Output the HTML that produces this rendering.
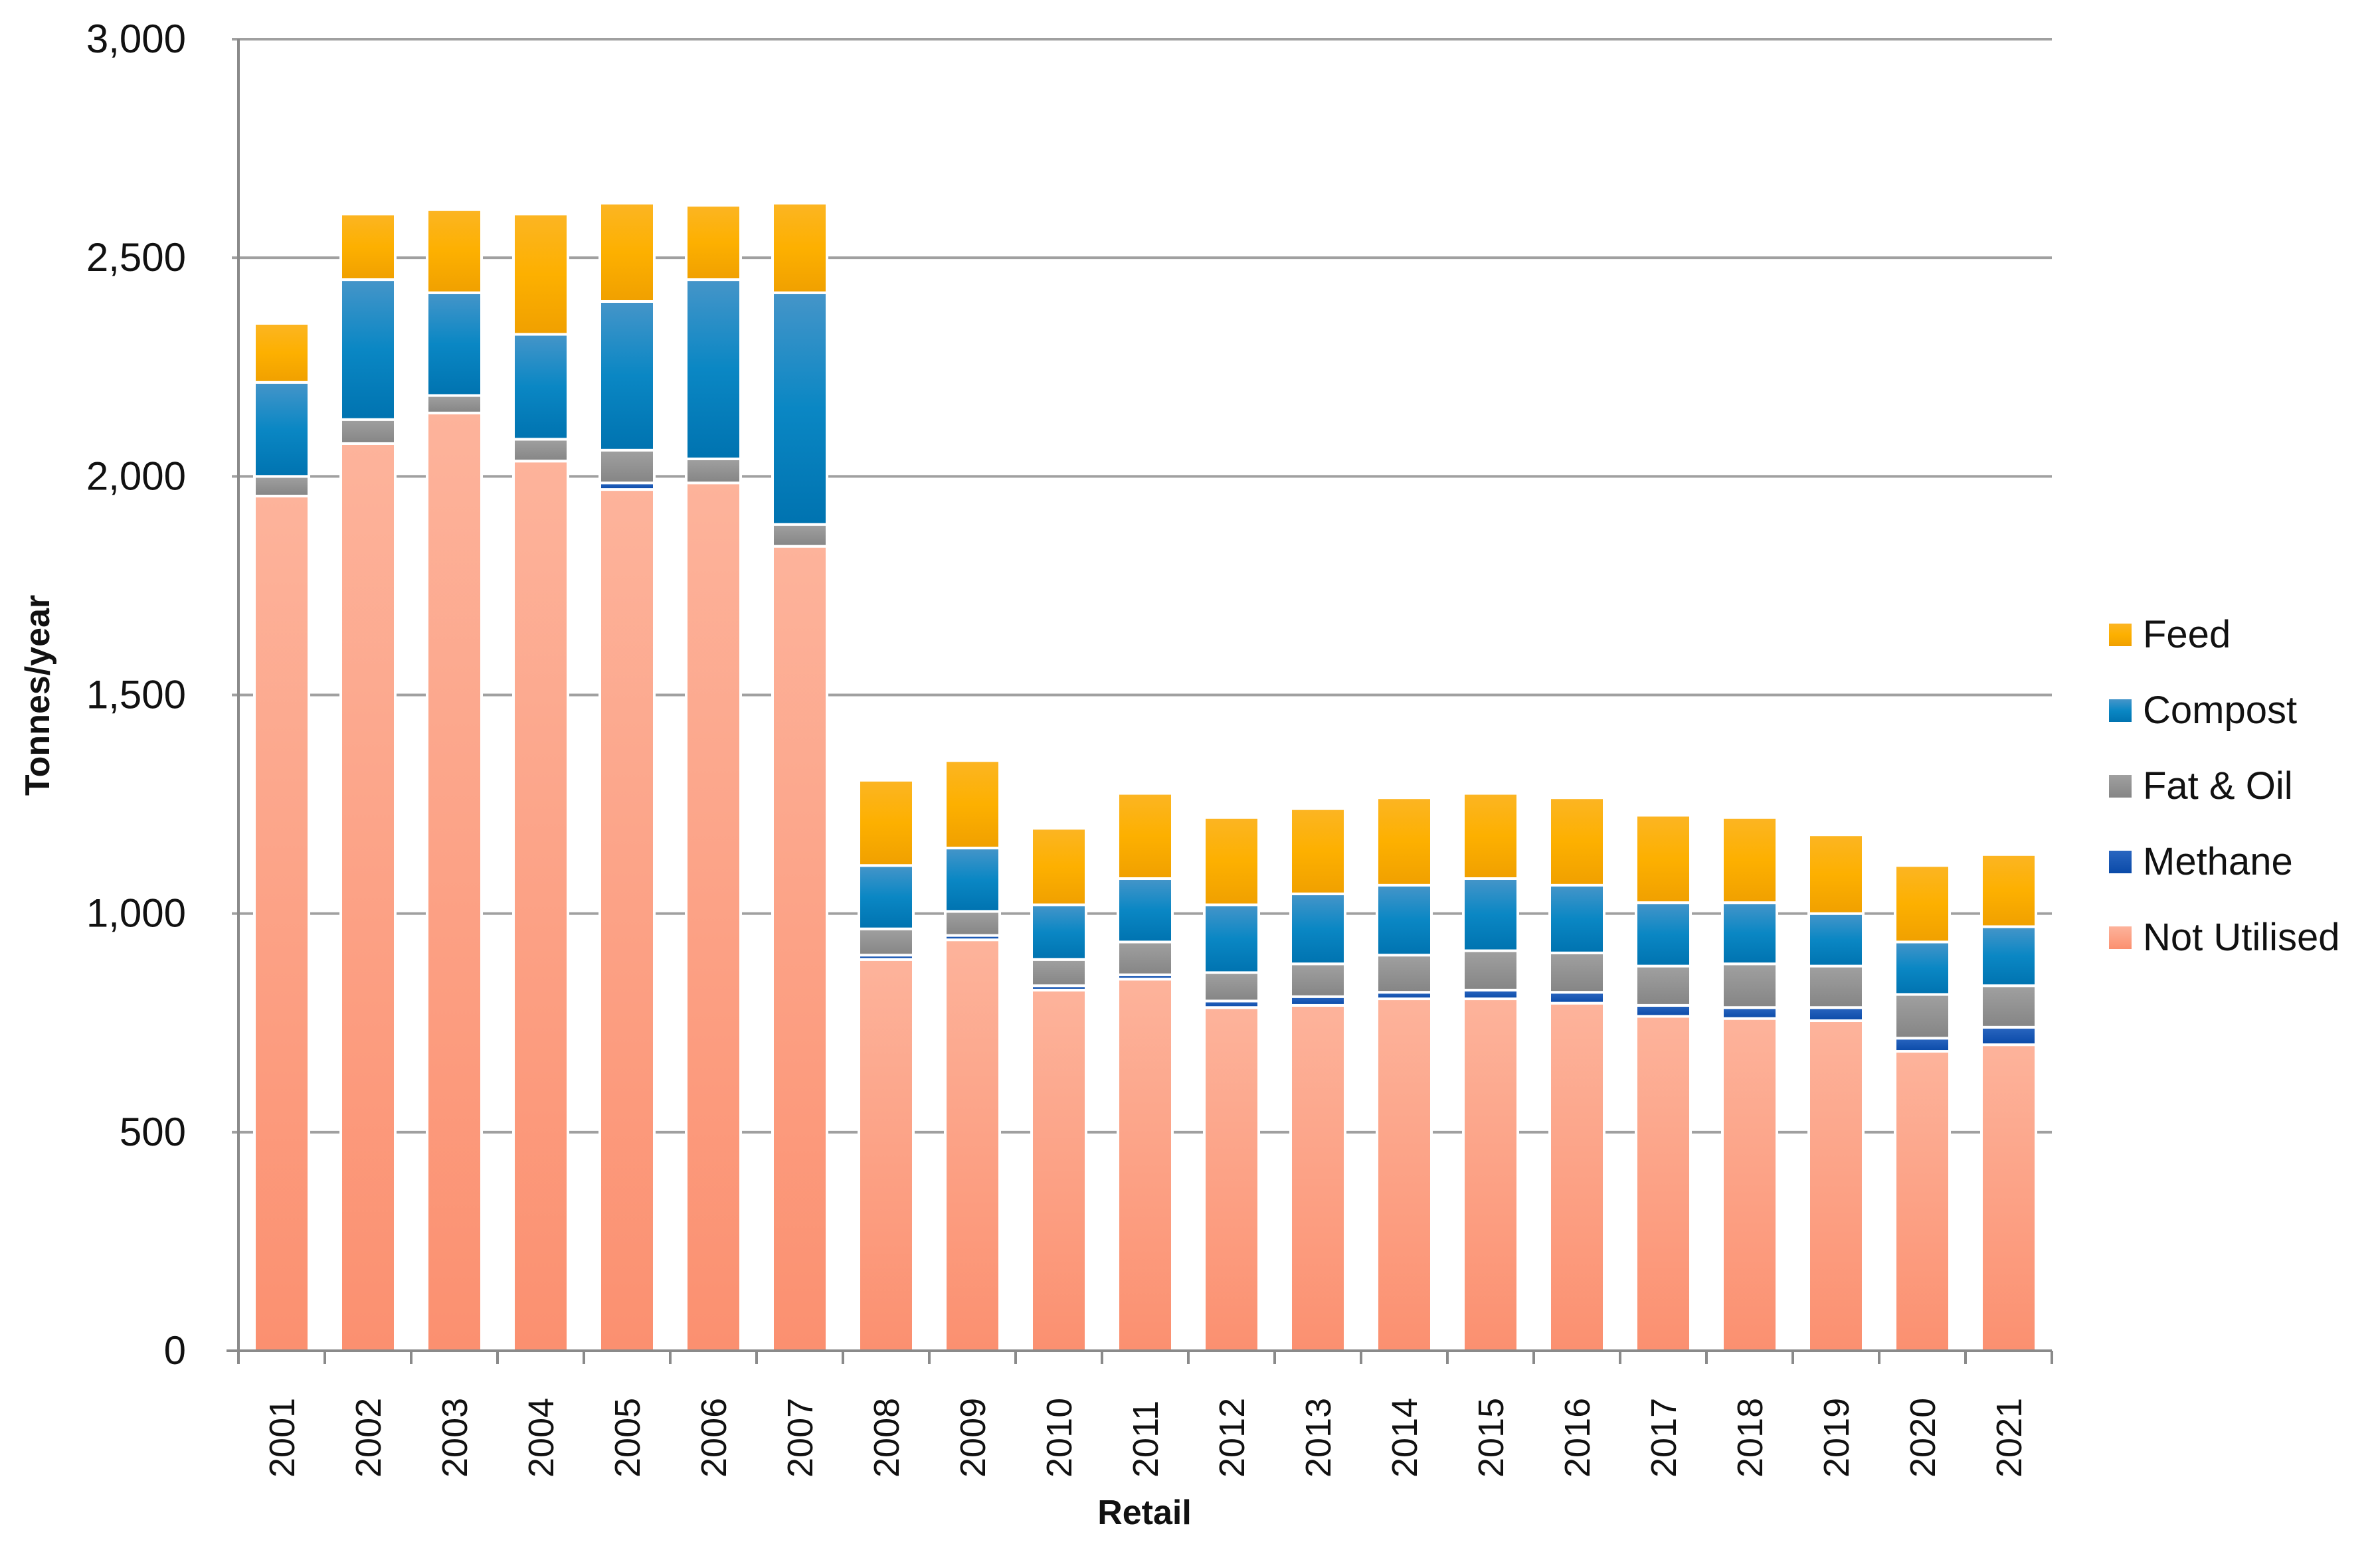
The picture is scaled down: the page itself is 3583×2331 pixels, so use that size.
<!DOCTYPE html>
<html><head><meta charset="utf-8"><style>
html,body{margin:0;padding:0;background:#fff;}
svg{display:block;font-family:"Liberation Sans",sans-serif;}
</style></head><body>
<svg id="chart" width="3583" height="2331" viewBox="0 0 3583 2331" xmlns="http://www.w3.org/2000/svg">
<defs>
<linearGradient id="gFeed" x1="0" y1="0" x2="0" y2="1"><stop offset="0" stop-color="#fcb523"/><stop offset="0.5" stop-color="#fdb000"/><stop offset="1" stop-color="#f0a000"/></linearGradient>
<linearGradient id="gComp" x1="0" y1="0" x2="0" y2="1"><stop offset="0" stop-color="#4595c9"/><stop offset="0.5" stop-color="#0a87c4"/><stop offset="1" stop-color="#0073b0"/></linearGradient>
<linearGradient id="gFat" x1="0" y1="0" x2="0" y2="1"><stop offset="0" stop-color="#a0a0a0"/><stop offset="1" stop-color="#858585"/></linearGradient>
<linearGradient id="gMeth" x1="0" y1="0" x2="0" y2="1"><stop offset="0" stop-color="#2a66c0"/><stop offset="1" stop-color="#0a4aa8"/></linearGradient>
<linearGradient id="gNU" x1="0" y1="0" x2="0" y2="1"><stop offset="0" stop-color="#fdb39b"/><stop offset="1" stop-color="#fb9070"/></linearGradient>
</defs>
<g id="grid"></g>
<g id="bars"></g>
<g id="axes"></g>
<text transform="translate(74,1047) rotate(-90)" text-anchor="middle" font-size="52" font-weight="bold" fill="#111">Tonnes/year</text>
<text x="1723" y="2295" text-anchor="middle" font-size="52" font-weight="bold" fill="#111">Retail</text>
<g id="legend"></g>
</svg>
<script>
const years = ["2001","2002","2003","2004","2005","2006","2007","2008","2009","2010","2011","2012","2013","2014","2015","2016","2017","2018","2019","2020","2021"];
const notUtilised = [1955,2075,2145,2035,1970,1985,1840,895,940,825,850,785,790,805,805,795,765,760,755,685,700];
const methane = [0,0,0,0,15,0,0,10,10,10,10,15,20,15,20,25,25,25,30,30,40];
const fatOil = [45,55,40,50,75,55,50,60,55,60,75,65,75,85,90,90,90,100,95,100,95];
const compost = [215,320,235,240,340,410,530,145,145,125,145,155,160,160,165,155,145,140,120,120,135];
const feed = [135,150,190,275,225,170,205,195,200,175,195,200,195,200,195,200,200,195,180,175,165];
const yTicks = [0,500,1000,1500,2000,2500,3000];
const yTickLabels = ["0","500","1,000","1,500","2,000","2,500","3,000"];
const seriesNames = ["Feed","Compost","Fat & Oil","Methane","Not Utilised"];

const NS="http://www.w3.org/2000/svg";
const L=359,R=3089,Y0=2034,YT=59,YMAX=3000;
const band=(R-L)/years.length, bw=82;
function yScale(v){return Y0-(v/YMAX)*(Y0-YT);}
function xCenter(i){return L+band*(i+0.5);}
function mk(tag,attrs,parent){const e=document.createElementNS(NS,tag);for(const k in attrs)e.setAttribute(k,attrs[k]);parent.appendChild(e);return e;}

const grid=document.getElementById('grid');
yTicks.forEach((t,i)=>{
  if(t>0){const ln=mk('line',{x1:L-10,x2:R,y1:yScale(t),y2:yScale(t),stroke:'#a0a0a0','stroke-width':4},grid);
  
  }
  const tx=mk('text',{x:280,y:yScale(t)+20,'text-anchor':'end','font-size':60,fill:'#111'},grid);
  tx.textContent=yTickLabels[i];
  
  
});

const bars=document.getElementById('bars');
const stacks=[[notUtilised,'url(#gNU)','not-utilised'],[methane,'url(#gMeth)','methane'],[fatOil,'url(#gFat)','fat-oil'],[compost,'url(#gComp)','compost'],[feed,'url(#gFeed)','feed']];
years.forEach((yr,i)=>{
  let base=0;
  stacks.forEach(s=>{
    const v=s[0][i];
    if(v>0){
      const r=mk('rect',{x:xCenter(i)-bw/2,y:yScale(base+v),width:bw,height:yScale(base)-yScale(base+v),fill:s[1],stroke:'#fff','stroke-width':4},bars);
      
      
    }
    base+=v;
  });
});

const axes=document.getElementById('axes');
mk('line',{x1:L,x2:L,y1:YT,y2:Y0,stroke:'#8a8a8a','stroke-width':4},axes);
mk('line',{x1:L-18,x2:R,y1:Y0,y2:Y0,stroke:'#8a8a8a','stroke-width':4},axes);
for(let i=0;i<=years.length;i++){
  const x=L+band*i;
  mk('line',{x1:x,x2:x,y1:Y0,y2:Y0+20,stroke:'#8a8a8a','stroke-width':4},axes);
}
years.forEach((yr,i)=>{
  const t=mk('text',{transform:'translate('+(xCenter(i)+19)+',2225) rotate(-90)','text-anchor':'start','font-size':54,fill:'#111'},axes);
  t.textContent=yr;
  
  
});

const legend=document.getElementById('legend');
const legFills=['url(#gFeed)','url(#gComp)','url(#gFat)','url(#gMeth)','url(#gNU)'];
seriesNames.forEach((n,i)=>{
  const cy=955+i*114;
  const g=mk('g',{},legend);
  
  
  mk('rect',{x:3175,y:cy-16,width:34,height:34,fill:legFills[i]},g);
  const t=mk('text',{x:3226,y:cy+20,'font-size':58,fill:'#111'},g);
  t.textContent=n;
});
</script>
</body></html>
